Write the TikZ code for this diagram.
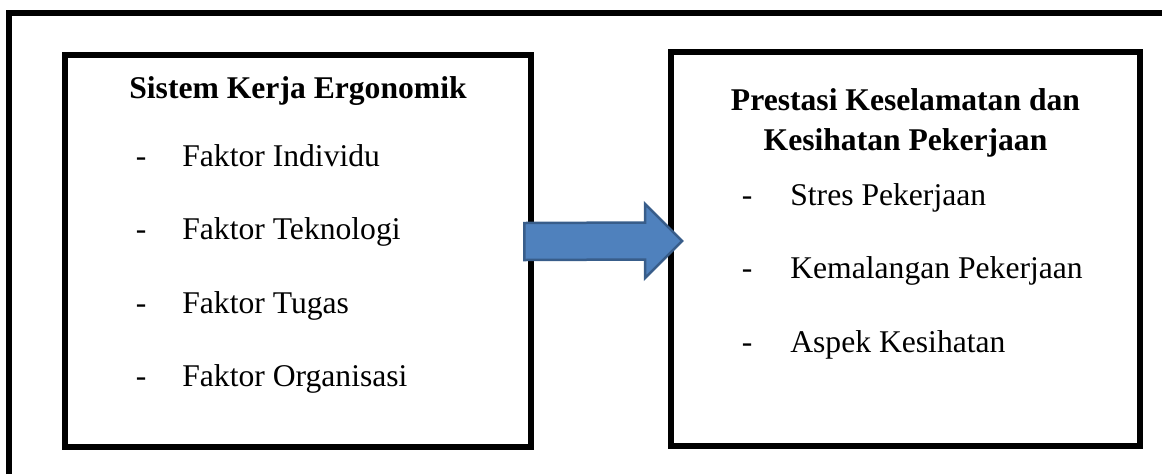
\documentclass[tikz,border=0pt]{standalone}
\usepackage{fontspec}
\setmainfont{Liberation Serif}
\usetikzlibrary{calc}

\definecolor{arrowfill}{HTML}{4F81BD}
\definecolor{arrowline}{HTML}{385D8A}

\begin{document}
\begin{tikzpicture}
[x=0.02cm,y=-0.02cm,every node/.style={inner sep=0pt,font=\fontsize{18}{22.7}\selectfont}]
\tikzset{frame/.style = {draw,line width=0.12cm}}
\tikzset{box/.style = {frame,rectangle,minimum width=9.34cm,minimum height=7.84cm}}
\tikzset{title/.style = {anchor=base,font=\fontsize{18}{22.7}\selectfont\bfseries,align=center}}
\tikzset{item/.style = {anchor=base west}}
\tikzset{blockarrow/.style = {fill=arrowfill,draw=arrowline,line width=0.05cm,line join=miter}}
\useasboundingbox (0,0) rectangle (1162,474);
  \draw[frame] (9,474) |- (1162,12.5);
  \node[box] (sistem) at (298,251){};
  \node[box,minimum width=9.38cm,minimum height=7.87cm] (prestasi) at (905.5,249){};
  \node[title] (tsistem) at (298,98.5){Sistem Kerja Ergonomik};
  % base of a two line node is the last line
  \node[title] (tprestasi) at (905.5,150){Prestasi Keselamatan dan\\Kesihatan Pekerjaan};
\foreach \txt [count=\i] in {Faktor Individu,Faktor Teknologi,Faktor Tugas,Faktor Organisasi}
  \node[item] (faktor\i) at (135.5,{166+73.6*(\i-1)}){\makebox[0.93cm][l]{-}\txt};
\foreach \txt [count=\i] in {Stres Pekerjaan,Kemalangan Pekerjaan,Aspek Kesihatan}
  \node[item] (aspek\i) at (741.5,{205+73.5*(\i-1)}){\makebox[0.97cm][l]{-}\txt};
% block arrow between the two boxes
\coordinate (tail) at ($(sistem.east)+(-10,-9.5)$);
\coordinate (tip) at ($(prestasi.west)+(14,-8)$);
\draw[blockarrow] ($(tail)+(0,-18.5)$) -- ($(tip)+(-37,-18.5)$) -- ($(tip)+(-37,-37)$)
  -- (tip) -- ($(tip)+(-37,37)$) -- ($(tip)+(-37,18.5)$) -- ($(tail)+(0,18.5)$) -- cycle;
\end{tikzpicture}
\end{document}
